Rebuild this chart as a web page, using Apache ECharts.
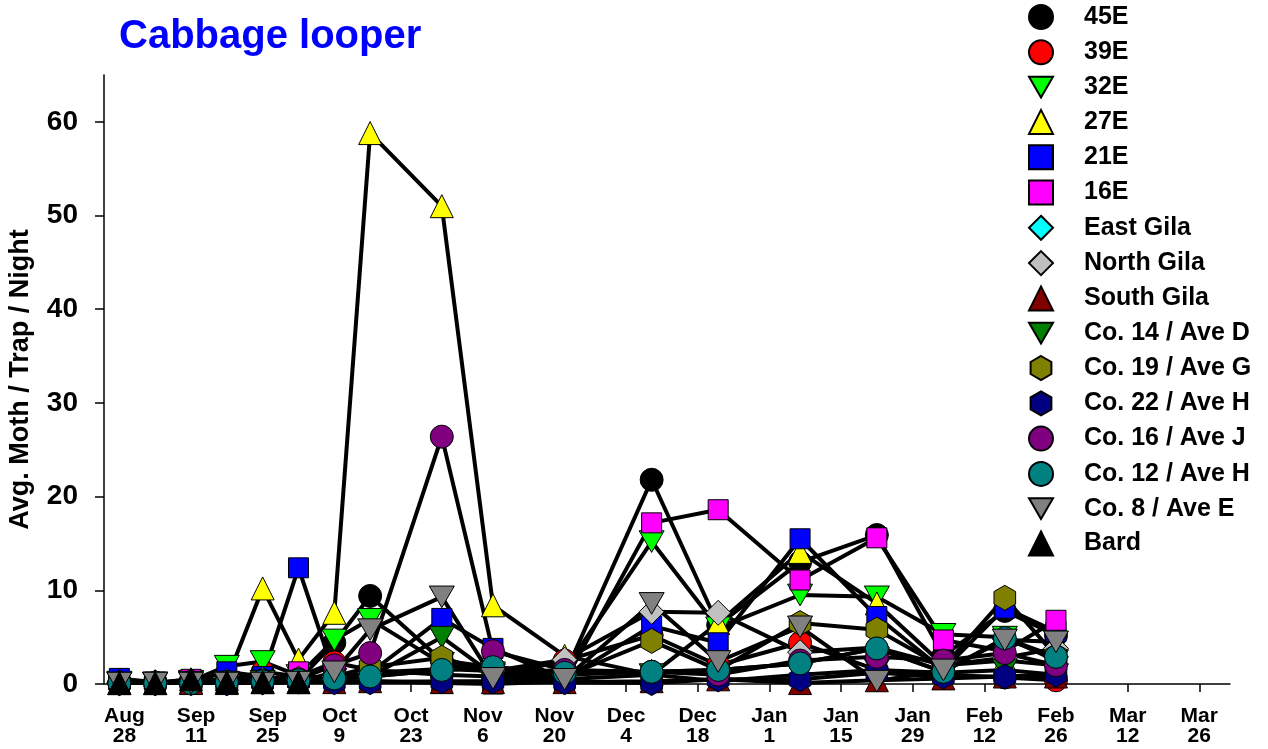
<!DOCTYPE html>
<html>
<head>
<meta charset="utf-8">
<script src="https://cdn.jsdelivr.net/npm/echarts@6/dist/echarts.min.js"></script>
<style>
  html, body { margin: 0; padding: 0; background: #fff; }
  #chart { width: 1268px; height: 749px; }
</style>
</head>
<body>
<div id="chart"></div>
<script>
// sampling dates, days after Aug 28
const days = [-1, 6, 13, 20, 27, 34, 41, 48, 62, 72, 86, 103, 116, 132, 147, 160, 172, 182];

const tickDays = [0, 14, 28, 42, 56, 70, 84, 98, 112, 126, 140, 154, 168, 182, 196, 210];
const tickLabels = ['Aug\n28', 'Sep\n11', 'Sep\n25', 'Oct\n9', 'Oct\n23', 'Nov\n6', 'Nov\n20', 'Dec\n4',
    'Dec\n18', 'Jan\n1', 'Jan\n15', 'Jan\n29', 'Feb\n12', 'Feb\n26', 'Mar\n12', 'Mar\n26'];
const yTicks = [0, 10, 20, 30, 40, 50, 60];

const siteNames = ['45E', '39E', '32E', '27E', '21E', '16E', 'East Gila', 'North Gila', 'South Gila',
    'Co. 14 / Ave D', 'Co. 19 / Ave G', 'Co. 22 / Ave H', 'Co. 16 / Ave J', 'Co. 12 / Ave H', 'Co. 8 / Ave E', 'Bard'];

const v45E = [0.2, 0.1, 0.3, 0.5, 0.6, 0.4, 4.4, 9.4, 2.5, 1.8, 1.0, 21.8, 6.3, 13.0, 15.9, 3.0, 7.8, 5.2];
const v39E = [0.1, 0.1, 0.2, 0.4, 1.3, 0.8, 2.3, 1.5, 1.0, 0.8, 2.5, 5.2, 2.0, 4.4, 1.5, 1.0, 0.7, 0.4];
const v32E = [0.2, 0.1, 0.3, 1.9, 2.4, 0.9, 4.7, 6.9, 2.2, 1.2, 1.5, 15.2, 6.0, 9.5, 9.3, 5.3, 5.0, 2.5];
const v27E = [0.1, 0.1, 0.2, 0.5, 10.2, 2.6, 7.6, 58.8, 51.0, 8.4, 3.0, 1.0, 6.5, 14.1, 8.6, 2.0, 2.5, 2.0];
const v21E = [0.6, 0.2, 0.2, 1.3, 0.8, 12.4, 1.0, 1.2, 7.0, 3.8, 0.5, 6.2, 4.4, 15.5, 7.2, 1.5, 8.1, 5.6];
const v16E = [0.1, 0.1, 0.5, 0.2, 0.3, 1.3, 0.2, 0.3, 0.1, 0.0, 0.3, 17.2, 18.6, 11.1, 15.6, 4.7, 3.5, 6.8];
const vEastGila = [0.2, 0.2, 0.2, 0.3, 0.3, 0.5, 0.5, 0.8, 1.5, 1.8, 1.0, 1.3, 1.5, 2.2, 3.8, 1.3, 4.8, 2.9];
const vNorthGila = [0.1, 0.1, 0.2, 0.3, 0.5, 0.6, 0.8, 1.2, 1.6, 1.4, 2.6, 7.7, 7.6, 3.4, 3.9, 2.0, 2.8, 3.8];
const vSouthGila = [0.1, 0.1, 0.1, 0.1, 0.2, 0.2, 0.2, 0.3, 0.2, 0.2, 0.2, 0.3, 0.5, 0.1, 0.4, 0.6, 0.8, 0.8];
const vCo14 = [0.1, 0.1, 0.2, 0.2, 0.3, 0.3, 0.5, 0.8, 5.0, 1.0, 0.5, 1.0, 0.3, 1.0, 1.5, 1.2, 1.5, 1.0];
const vCo19 = [0.1, 0.1, 0.2, 0.1, 0.2, 0.3, 0.8, 1.8, 2.8, 1.2, 0.8, 4.6, 1.5, 6.5, 5.8, 1.8, 9.2, 3.0];
const vCo22 = [0.1, 0.1, 0.1, 0.1, 0.2, 0.3, 0.2, 0.2, 0.3, 0.3, 0.2, 0.1, 0.5, 0.5, 1.2, 0.8, 0.8, 1.0];
const vCo16 = [0.1, 0.1, 0.2, 0.2, 0.4, 0.5, 2.0, 3.3, 26.4, 3.5, 1.5, 1.3, 1.0, 2.5, 2.9, 2.5, 3.3, 2.0];
const vCo12 = [0.1, 0.1, 0.1, 0.2, 0.3, 0.4, 0.6, 0.8, 1.5, 1.8, 1.2, 1.3, 1.5, 2.2, 3.8, 1.3, 4.9, 2.9];
const vCo8 = [0.1, 0.1, 0.1, 0.1, 0.1, 0.2, 1.3, 5.8, 9.3, 0.6, 0.5, 8.6, 2.4, 6.1, 0.3, 1.5, 4.7, 4.5];
const vBard = [0.1, 0.1, 0.5, 0.2, 0.2, 0.2];

const siteValues = [v45E, v39E, v32E, v27E, v21E, v16E, vEastGila, vNorthGila, vSouthGila,
    vCo14, vCo19, vCo22, vCo16, vCo12, vCo8, vBard];

const downTri = 'path://M0,0L100,0L50,86.6Z';
const hexagon = 'path://M43.3,0L86.6,25L86.6,75L43.3,100L0,75L0,25Z';
const siteSymbols = ['circle', 'circle', downTri, 'triangle', 'rect', 'rect', 'diamond', 'diamond', 'triangle',
    downTri, hexagon, hexagon, 'circle', 'circle', downTri, 'triangle'];
const siteColors = ['#000000', '#ff0000', '#00ff00', '#ffff00', '#0000ff', '#ff00ff', '#00ffff', '#c0c0c0', '#800000',
    '#008000', '#808000', '#000080', '#800080', '#008080', '#808080', '#000000'];

const font = 'Liberation Sans, Arial, sans-serif';

let chart = echarts.init(document.getElementById('chart'));

function symSize(sym) {
    if (sym === 'rect') return 20;
    if (sym === hexagon) return 25;
    if (sym === 'diamond') return 25;
    if (sym === downTri) return 25;
    return 23;
}

let series = siteNames.map((name, i) => {
    let sym = siteSymbols[i];
    return {
        name: name,
        type: 'line',
        data: siteValues[i].map((v, k) => [days[k], v]),
        symbol: sym,
        symbolSize: symSize(sym),
        symbolKeepAspect: true,
        showAllSymbol: true,
        animation: false,
        lineStyle: { color: '#000', width: 4 },
        itemStyle: { color: siteColors[i], borderColor: '#000', borderWidth: 1, opacity: 1 },
        emphasis: { disabled: true }
    };
});

chart.setOption({
    backgroundColor: '#fff',
    animation: false,
    title: {
        text: 'Cabbage looper',
        left: 119,
        top: 17,
        padding: 0,
        textStyle: { color: '#0000ff', fontFamily: font, fontWeight: 'bold', fontSize: 40 }
    },
    legend: {
        orient: 'vertical',
        left: 1028,
        top: 4,
        itemWidth: 24,
        itemHeight: 24,
        itemGap: 9.3,
        padding: 0,
        selectedMode: false,
        data: siteNames.map((n, i) => ({ name: n, icon: siteSymbols[i] })),
        textStyle: { color: '#000', fontFamily: font, fontWeight: 'bold', fontSize: 25, lineHeight: 24, padding: [0, 0, 0, 26] }
    },
    grid: { left: 104, right: 38, top: 75, bottom: 65, containLabel: false, outerBoundsMode: 'none' },
    xAxis: {
        type: 'value',
        min: -4,
        max: 216,
        axisLine: { show: true, onZero: false, lineStyle: { color: '#000', width: 1.5 } },
        axisTick: { show: true, inside: false, length: 8, customValues: tickDays, lineStyle: { color: '#000', width: 1.5 } },
        axisLabel: {
            customValues: tickDays,
            margin: 22,
            color: '#000',
            fontFamily: font,
            fontWeight: 'bold',
            fontSize: 21,
            lineHeight: 20,
            formatter: (v) => tickLabels[tickDays.indexOf(v)] || ''
        },
        splitLine: { show: false }
    },
    yAxis: {
        type: 'value',
        min: 0,
        max: 65,
        name: 'Avg. Moth / Trap / Night',
        nameLocation: 'middle',
        nameGap: 70,
        nameTextStyle: { color: '#000', fontFamily: font, fontWeight: 'bold', fontSize: 27 },
        axisLine: { show: true, onZero: false, lineStyle: { color: '#000', width: 1.5 } },
        axisTick: { show: true, inside: false, length: 9, customValues: yTicks, lineStyle: { color: '#000', width: 1.5 } },
        axisLabel: {
            customValues: yTicks,
            margin: 26,
            color: '#000',
            fontFamily: font,
            fontWeight: 'bold',
            fontSize: 28
        },
        splitLine: { show: false }
    },
    series: series
});
</script>
</body>
</html>
